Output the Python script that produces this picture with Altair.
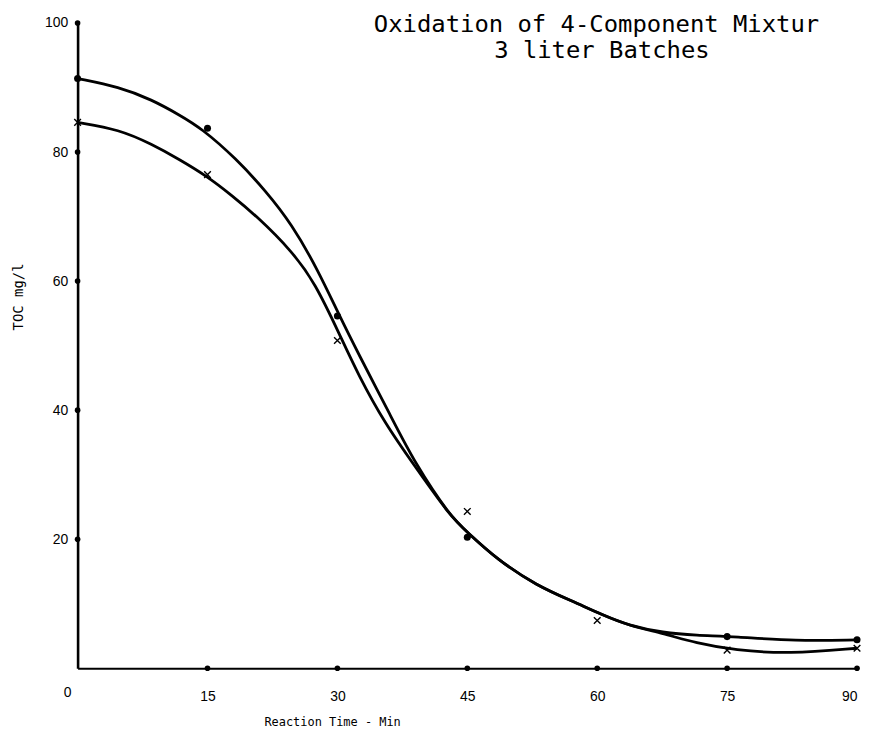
import altair as alt
import pandas as pd

# ---- data ----
# measured points, series "dot" (filled circles)
dot_t = [0, 15, 30, 45, 75, 90]
dot_v = [91.4, 83.7, 54.6, 20.3, 4.9, 4.4]
# measured points, series "x" (crosses)
x_t = [0, 15, 30, 45, 60, 75, 90]
x_v = [84.6, 76.5, 50.8, 24.3, 7.4, 2.8, 3.1]

# hand-drawn fitted curves
curve_dot_t = [0, 4.8, 8.6, 11.7, 14.3, 18.3, 21.7, 24.7, 27.8, 30.1, 32.4, 36.2, 38.9,
               43.0, 45.0, 48.4, 53.0, 57.3, 60.7, 63.7, 67.6, 71.4, 75.9, 82.9, 90]
curve_dot_v = [91.4, 90.1, 88.1, 85.8, 83.7, 79.0, 74.0, 68.9, 61.6, 55.0, 48.8, 39.0, 31.9,
               23.6, 21.1, 16.9, 12.8, 10.3, 8.2, 6.6, 5.5, 5.1, 4.9, 4.2, 4.4]
curve_x_t = [0, 4.8, 8.6, 11.7, 14.9, 17.8, 20.9, 24.7, 27.4, 30.3, 32.4, 35.5, 38.9,
             43.0, 45.0, 48.4, 53.0, 57.3, 60.7, 63.7, 67.6, 71.4, 75.9, 82.1, 90]
curve_x_v = [84.6, 83.5, 81.2, 78.9, 76.3, 73.3, 69.8, 64.7, 59.8, 51.6, 45.5, 37.9, 31.4,
             23.6, 21.1, 16.9, 12.8, 10.3, 8.2, 6.6, 5.4, 3.9, 2.8, 2.2, 3.1]

# axis tick marks (drawn as dots) and labels
x_ticks = [15, 30, 45, 60, 75, 90]
y_ticks = [20, 40, 60, 80, 100]
title_lines = ["Oxidation of 4-Component Mixtur", "3 liter Batches"]
x_title = "Reaction Time - Min"
y_title = "TOC mg/l"

# ---- tables ----
curves = pd.concat([
    pd.DataFrame({"series": "dot", "t": curve_dot_t, "v": curve_dot_v, "i": range(len(curve_dot_t))}),
    pd.DataFrame({"series": "x", "t": curve_x_t, "v": curve_x_v, "i": range(len(curve_x_t))}),
])
dots = pd.DataFrame({"t": dot_t, "v": dot_v})
crosses = pd.DataFrame({"t": x_t, "v": x_v})
xtick_df = pd.DataFrame({"t": x_ticks, "v": [0] * len(x_ticks)})
ytick_df = pd.DataFrame({"t": [0] * len(y_ticks), "v": y_ticks})
zero_df = pd.DataFrame({"t": [0], "v": [0], "lab": ["0"]})

xs = alt.Scale(domain=[0, 90], nice=False, zero=False)
ys = alt.Scale(domain=[0, 100], nice=False, zero=False)

LABEL_FONT = "Liberation Sans"
MONO = "DejaVu Sans Mono"

x_axis = alt.Axis(values=x_ticks, ticks=False, grid=False, domainColor="black",
                  domainWidth=2.2, labelFont=LABEL_FONT, labelFontSize=14,
                  labelColor="black", labelPadding=21, title=x_title,
                  titleFont=MONO, titleFontSize=12, titleFontWeight="normal",
                  titleColor="black", titleX=256, titleY=54, titleBaseline="middle",
                  titleAnchor="middle")
y_axis = alt.Axis(values=y_ticks, ticks=False, grid=False, domainColor="black",
                  domainWidth=2.6, labelFont=LABEL_FONT, labelFontSize=14,
                  labelColor="black", labelPadding=10, title=y_title,
                  titleFont=MONO, titleFontSize=14, titleFontWeight="normal",
                  titleColor="black", titleX=-59, titleY=275, titleAngle=-90,
                  titleBaseline="middle", titleAnchor="middle")

lines = alt.Chart(curves).mark_line(color="black", strokeWidth=2.8,
                                    interpolate="basis").encode(
    x=alt.X("t:Q", scale=xs, axis=x_axis),
    y=alt.Y("v:Q", scale=ys, axis=y_axis),
    detail="series:N",
    order="i:Q",
)

dot_pts = alt.Chart(dots).mark_point(shape="circle", filled=True, color="black",
                                     size=50, opacity=1).encode(
    x=alt.X("t:Q", scale=xs), y=alt.Y("v:Q", scale=ys))

cross_pts = alt.Chart(crosses).mark_point(shape="M-1,-1L1,1M-1,1L1,-1", filled=False,
                                          color="black", size=45, strokeWidth=1.4,
                                          opacity=1).encode(
    x=alt.X("t:Q", scale=xs), y=alt.Y("v:Q", scale=ys))

xtick_pts = alt.Chart(xtick_df).mark_point(shape="circle", filled=True, color="black",
                                           size=32, opacity=1).encode(
    x=alt.X("t:Q", scale=xs), y=alt.Y("v:Q", scale=ys))

ytick_pts = alt.Chart(ytick_df).mark_point(shape="circle", filled=True, color="black",
                                           size=32, opacity=1).encode(
    x=alt.X("t:Q", scale=xs), y=alt.Y("v:Q", scale=ys))

zero_lab = alt.Chart(zero_df).mark_text(font=LABEL_FONT, fontSize=14, color="black",
                                        dx=-10, dy=25, baseline="middle").encode(
    x=alt.X("t:Q", scale=xs), y=alt.Y("v:Q", scale=ys), text="lab:N")

title_df = pd.DataFrame({"txt": [title_lines[0]]})
title2_df = pd.DataFrame({"txt": [title_lines[1]]})
title1 = alt.Chart(title_df).mark_text(font=MONO, fontSize=24, color="black",
                                       align="left", baseline="alphabetic").encode(
    text="txt:N", x=alt.value(298), y=alt.value(9))
title2 = alt.Chart(title2_df).mark_text(font=MONO, fontSize=24, color="black",
                                        align="left", baseline="alphabetic").encode(
    text="txt:N", x=alt.value(419), y=alt.value(35))

chart = alt.layer(lines, xtick_pts, ytick_pts, dot_pts, cross_pts, zero_lab,
                  title1, title2).properties(
    width=784, height=649,
    padding={"left": 70, "top": 13, "right": 4, "bottom": 58},
    autosize=alt.AutoSizeParams(type="none"),
    background="white",
).configure_view(strokeOpacity=0, strokeWidth=0, stroke="transparent")

chart.save("out.html", embed_options={"renderer": "svg", "actions": False})
